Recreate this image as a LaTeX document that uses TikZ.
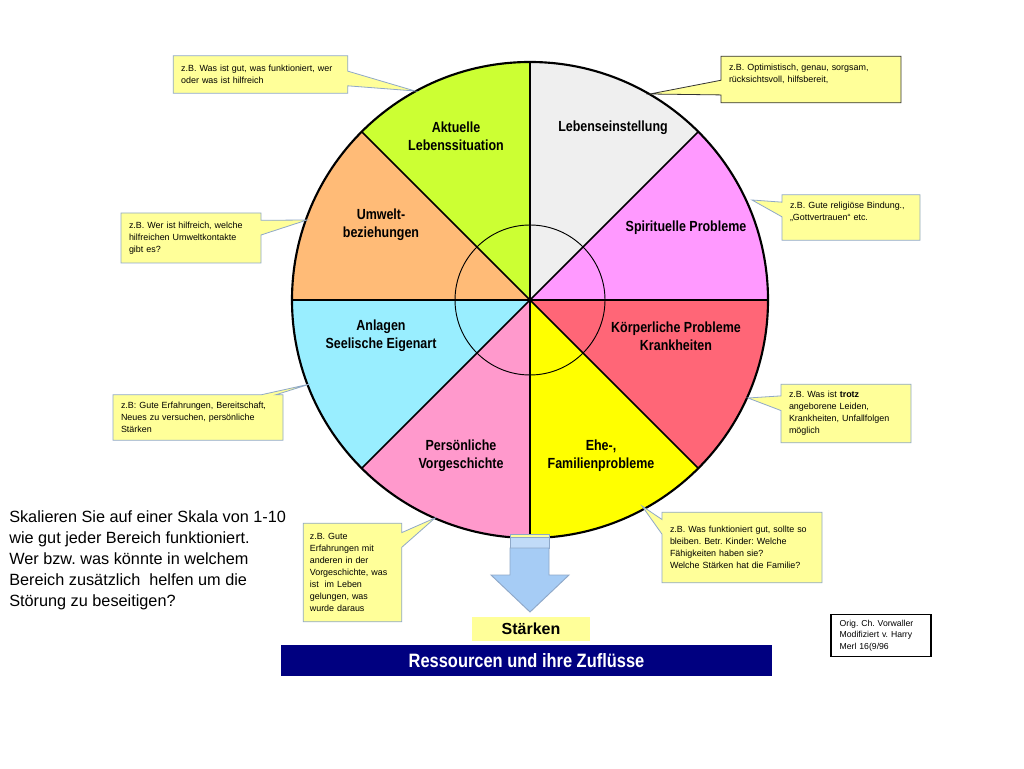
\documentclass[tikz,border=0pt]{standalone}
\usepackage{fontspec}
\setmainfont{Liberation Sans}
\newfontfamily\narrow[FakeStretch=0.85]{Liberation Sans}
\usetikzlibrary{shapes.callouts}
\definecolor{secA}{HTML}{CCFF33}
\definecolor{secB}{HTML}{EFEFEF}
\definecolor{secC}{HTML}{FF99FF}
\definecolor{secD}{HTML}{FF6677}
\definecolor{secE}{HTML}{FFFF00}
\definecolor{secF}{HTML}{FF99CC}
\definecolor{secG}{HTML}{99EEFF}
\definecolor{secH}{HTML}{FFBB77}
\definecolor{hintfill}{HTML}{FFFF99}
\definecolor{hintline}{HTML}{8FA8C8}
\definecolor{arrowfill}{HTML}{A6CCF5}
\definecolor{banner}{HTML}{000080}
\tikzset{
  hint/.style 2 args={rectangle callout,fill=hintfill,draw=hintline,line width=.6pt,
    align=left,text width=#1,minimum height=#2,inner xsep=6pt,inner ysep=2pt,
    callout pointer width=11pt,font=\fontsize{6.7}{9}\selectfont},
  area/.style={align=center,font=\narrow\bfseries\fontsize{11}{13.5}\selectfont}
}

\begin{document}
\frenchspacing
\begin{tikzpicture}[x=.75pt,y=.75pt]
\useasboundingbox (0,0) rectangle (1024,768);
\fill[white] (0,0) rectangle (1024,768);
\coordinate (C) at (530,468);
% the eight areas
\foreach \a/\c in {90/secA,45/secB,0/secC,-45/secD,-90/secE,-135/secF,180/secG,135/secH}
  \fill[\c] (C) -- ++(\a:238) arc[start angle=\a,end angle=\a+45,radius=238] -- cycle;
\foreach \a in {0,45,90,135}
  \draw[line width=1.3pt] (C) ++(\a:238) -- ++(\a+180:476);
\draw[line width=.7pt] (C) circle (75);
\draw[line width=1.6pt] (C) circle (238);
\fill (C) circle (2.5);
\node[area] (akt) at (456,632) {Aktuelle\\Lebenssituation};
\node[area] (leb) at (613,640) {Lebenseinstellung};
\node[area] (spi) at (686,540) {Spirituelle Probleme};
\node[area] (koe) at (676,432) {Körperliche Probleme\\Krankheiten};
\node[area] (ehe) at (601,312) {Ehe-,\\Familienprobleme};
\node[area] (per) at (461,312) {Persönliche\\Vorgeschichte};
\node[area] (anl) at (381,432) {Anlagen\\Seelische Eigenart};
\node[area] (umw) at (381,543) {Umwelt-\\beziehungen};
% pointer tips on the rim
\coordinate (t1) at (415,677);
\coordinate (t2) at (650,674);
\coordinate (t3) at (307,548);
\coordinate (t4) at (752,568);
\coordinate (t5) at (310,384);
\coordinate (t6) at (748,370);
\coordinate (t7) at (435,250);
\coordinate (t8) at (642,262);
\node[hint={119pt}{28pt},callout absolute pointer={(t1)}] (h1) at (260.5,693.5)
  {z.B. Was ist gut, was funktioniert, wer\\oder was ist hilfreich};
\node[hint={123pt}{35pt},draw=black!80,callout absolute pointer={(t2)}] (h2) at (811,688.5)
  {z.B. Optimistisch, genau, sorgsam,\\rücksichtsvoll, hilfsbereit,\\~};
\node[hint={93pt}{37.5pt},callout absolute pointer={(t3)}] (h3) at (191,530)
  {z.B. Wer ist hilfreich, welche\\hilfreichen Umweltkontakte\\gibt es?};
\node[hint={91.5pt}{34pt},callout absolute pointer={(t4)}] (h4) at (851,550.5)
  {z.B. Gute religiöse Bindung.,\\„Gottvertrauen“ etc.\\~};
\node[hint={115.5pt}{34pt},callout absolute pointer={(t5)}] (h5) at (198,350.5)
  {z.B: Gute Erfahrungen, Bereitschaft,\\Neues zu versuchen, persönliche\\Stärken};
\node[hint={85.5pt}{44pt},callout absolute pointer={(t6)}] (h6) at (846,354.5)
  {z.B. Was ist \textbf{trotz}\\angeborene Leiden,\\Krankheiten, Unfallfolgen\\möglich};
\node[hint={64pt}{74pt},inner xsep=5pt,callout absolute pointer={(t7)}] (h7) at (352.5,195.5)
  {z.B. Gute\\Erfahrungen mit\\anderen in der\\Vorgeschichte, was\\ist~ im Leben\\gelungen, was\\wurde daraus};
\node[hint={108pt}{53pt},callout absolute pointer={(t8)}] (h8) at (742,220.5)
  {z.B. Was funktioniert gut, sollte so\\bleiben. Betr. Kinder: Welche\\Fähigkeiten haben sie?\\Welche Stärken hat die Familie?};
% outflow
\draw[hintline,fill=hintfill] (510,231) rectangle (549,234);
\draw[hintline,fill=arrowfill!70] (510,220) rectangle (549,231);
\draw[hintline,line width=.7pt,fill=arrowfill] (510,220) -- (510,193) -- (491,193) -- (530,156)
  -- (569,193) -- (549,193) -- (549,220) -- cycle;
\node[fill=hintfill,minimum width=88.5pt,minimum height=18pt,font=\bfseries\fontsize{12}{14}\selectfont] (st) at (531,139) {Stärken};
\node[fill=banner,text=white,minimum width=368pt,minimum height=23pt,
  font=\narrow\bfseries\fontsize{14.5}{17}\selectfont] (res) at (526.5,107.5) {Ressourcen und ihre Zuflüsse};
\node[draw,line width=.8pt,align=left,minimum width=75pt,minimum height=32pt,text width=62pt,
  inner xsep=6pt,font=\fontsize{6.5}{8.5}\selectfont] (orig) at (881,132.5)
  {Orig. Ch. Vorwaller\\Modifiziert v. Harry\\Merl 16(9/96};
\node[anchor=north west,align=left,inner sep=0pt,font=\fontsize{12.2}{15.75}\selectfont] (task) at (9,258)
  {Skalieren Sie auf einer Skala von 1-10\\wie gut jeder Bereich funktioniert.\\Wer bzw. was könnte in welchem\\Bereich zusätzlich~ helfen um die\\Störung zu beseitigen?};
\end{tikzpicture}
\end{document}
